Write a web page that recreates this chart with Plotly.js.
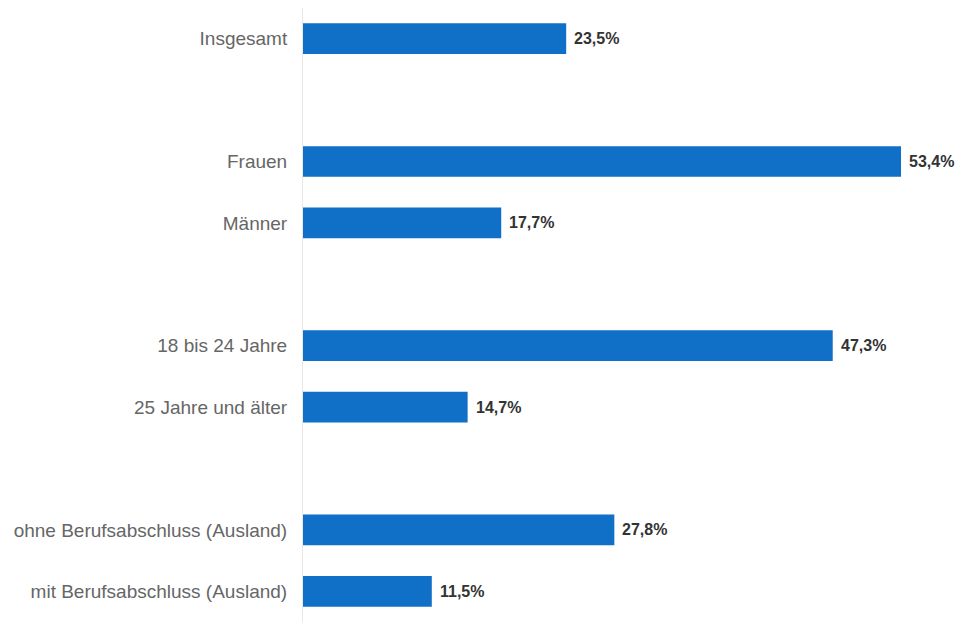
<!DOCTYPE html>
<html>
<head>
<meta charset="utf-8">
<script src="https://cdn.plot.ly/plotly-3.0.1.min.js"></script>
<style>html,body{margin:0;padding:0;background:#fff;}#chart{width:976px;height:629px;}</style>
</head>
<body>
<div id="chart"></div>
<script>
const categories = ["Insgesamt", " ", "Frauen", "Männer", "  ", "18 bis 24 Jahre", "25 Jahre und älter", "   ", "ohne Berufsabschluss (Ausland)", "mit Berufsabschluss (Ausland)"];
const values = [23.5, null, 53.4, 17.7, null, 47.3, 14.7, null, 27.8, 11.5];
const labels = values.map(v => v === null ? "" : v.toFixed(1).replace(".", ",") + "%");

const trace = {
  type: "bar",
  orientation: "h",
  x: values,
  y: categories,
  marker: {color: "#106fc6"},
  hoverinfo: "skip",
  showlegend: false
};

const annotations = [];
values.forEach((v, i) => {
  if (v === null) return;
  annotations.push({
    x: v, y: categories[i], xref: "x", yref: "y",
    text: "<b>" + labels[i] + "</b>",
    showarrow: false, xanchor: "left", xshift: 6,
    font: {family: "Liberation Sans, Arial, sans-serif", size: 16, color: "#333333"}
  });
});

const layout = {
  width: 976, height: 629,
  margin: {l: 303, r: 10, t: 8, b: 7},
  paper_bgcolor: "#ffffff", plot_bgcolor: "#ffffff",
  bargap: 0.5,
  xaxis: {range: [0, 59.2], showgrid: false, zeroline: false, showticklabels: false, showline: false, fixedrange: true},
  yaxis: {
    type: "category", autorange: "reversed",
    showgrid: false, zeroline: false,
    showline: true, linecolor: "#e8e8e8", linewidth: 1,
    ticks: "outside", ticklen: 11, tickcolor: "rgba(0,0,0,0)",
    tickfont: {family: "Liberation Sans, Arial, sans-serif", size: 19, color: "#666666"}
  },
  annotations: annotations
};

Plotly.newPlot("chart", [trace], layout, {displayModeBar: false, staticPlot: true});
</script>
</body>
</html>
